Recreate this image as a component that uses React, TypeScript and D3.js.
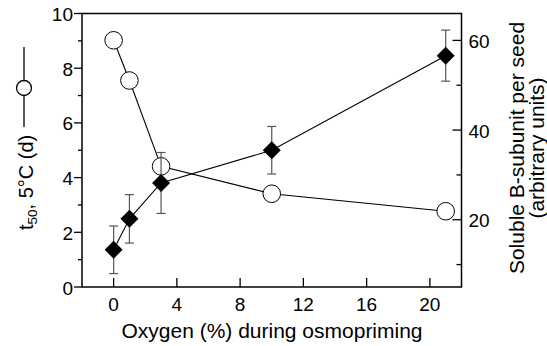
import React from "react";
import * as d3 from "d3";

const oxygen = [0, 1, 3, 10, 21];
const t50 = [9.02, 7.55, 4.41, 3.41, 2.77];
const subunit = [13.3, 20.2, 28.2, 35.5, 56.6];
const subunitErr = [5.3, 5.4, 6.8, 5.3, 5.7];
const xTicks = [0, 4, 8, 12, 16, 20];
const yLeftTicks = [0, 2, 4, 6, 8, 10];
const yLeftMinor = [1, 3, 5, 7, 9];
const yRightTicks = [20, 40, 60];
const yRightMinor = [10, 30, 50];

const W = 547, H = 346;
const L = 82, R = 461.5, T = 13.5, B = 287;
const FONT = "'Liberation Sans', Arial, Helvetica, sans-serif";
const TICK_FS = 19;
const TITLE_FS = 21;

export default function App() {
  const x = d3.scaleLinear().domain([-2, 22]).range([L, R]);
  const yL = d3.scaleLinear().domain([0, 10]).range([B, T]);
  const yR = d3.scaleLinear().domain([5, 66]).range([B, T]);

  const lineL = d3.line<number>().x((_, i) => x(oxygen[i])).y((d) => yL(d));
  const lineR = d3.line<number>().x((_, i) => x(oxygen[i])).y((d) => yR(d));

  const dm = 9;
  const leftCx = 25;
  const leftCy = 138;

  return (
    <svg width={W} height={H} style={{ position: "absolute", left: 0, top: 0, background: "#fff" }} fontFamily={FONT}>
      {/* axes box */}
      <rect x={L} y={T} width={R - L} height={B - T} fill="none" stroke="#000" strokeWidth={1.5} />
      {/* x ticks (inward) */}
      {xTicks.map((t) => (
        <g key={"x" + t}>
          <line x1={x(t)} x2={x(t)} y1={B} y2={B - 9} stroke="#000" strokeWidth={1.3} />
          <text x={x(t)} y={311} fontSize={TICK_FS} textAnchor="middle">{t}</text>
        </g>
      ))}
      {/* left y ticks (outward) */}
      {yLeftTicks.map((t) => (
        <g key={"yl" + t}>
          <line x1={L - 8} x2={L} y1={yL(t)} y2={yL(t)} stroke="#000" strokeWidth={1.3} />
          <text x={L - 9} y={yL(t) + 7.5} fontSize={TICK_FS} textAnchor="end">{t}</text>
        </g>
      ))}
      {yLeftMinor.map((t) => (
        <line key={"ylm" + t} x1={L - 4} x2={L} y1={yL(t)} y2={yL(t)} stroke="#000" strokeWidth={1.3} />
      ))}
      {/* right y ticks (inward) */}
      {yRightTicks.map((t) => (
        <g key={"yr" + t}>
          <line x1={R - 9} x2={R} y1={yR(t)} y2={yR(t)} stroke="#000" strokeWidth={1.3} />
          <text x={R + 7} y={yR(t) + 7.5} fontSize={TICK_FS} textAnchor="start">{t}</text>
        </g>
      ))}
      {yRightMinor.map((t) => (
        <line key={"yrm" + t} x1={R - 5} x2={R} y1={yR(t)} y2={yR(t)} stroke="#000" strokeWidth={1.3} />
      ))}

      {/* circle series */}
      <path d={lineL(t50) || ""} fill="none" stroke="#000" strokeWidth={1.1} />
      {t50.map((v, i) => (
        <circle key={"c" + i} cx={x(oxygen[i])} cy={yL(v)} r={8.8} fill="#fff" stroke="#000" strokeWidth={1} />
      ))}

      {/* diamond series */}
      <path d={lineR(subunit) || ""} fill="none" stroke="#000" strokeWidth={1.1} />
      {subunit.map((v, i) => {
        const cx = x(oxygen[i]);
        const top = yR(v + subunitErr[i]);
        const bot = yR(v - subunitErr[i]);
        return (
          <g key={"e" + i} stroke="#555" strokeWidth={1.2}>
            <line x1={cx} x2={cx} y1={top} y2={bot} />
            <line x1={cx - 4.5} x2={cx + 4.5} y1={top} y2={top} />
            <line x1={cx - 4.5} x2={cx + 4.5} y1={bot} y2={bot} />
          </g>
        );
      })}
      {subunit.map((v, i) => {
        const cx = x(oxygen[i]);
        const cy = yR(v);
        return (
          <path key={"d" + i} d={`M${cx},${cy - dm}L${cx + dm},${cy}L${cx},${cy + dm}L${cx - dm},${cy}Z`} fill="#000" />
        );
      })}

      {/* x axis title */}
      <text x={272} y={338} fontSize={TITLE_FS} textAnchor="middle">Oxygen (%) during osmopriming</text>

      {/* left axis title */}
      <g transform={`translate(${leftCx},${leftCy}) rotate(-90)`}>
        <text x={-92} y={8} fontSize={20} textAnchor="start">
          t<tspan fontSize={13.5} dy={4}>50</tspan><tspan dy={-4}>, 5°C (d)</tspan>
        </text>
        <line x1={11} x2={91} y1={-1} y2={-1} stroke="#000" strokeWidth={1.3} />
        <circle cx={50} cy={-1} r={7.5} fill="#fff" stroke="#000" strokeWidth={1.3} />
      </g>

      {/* right axis title */}
      <g transform={`translate(517,148) rotate(-90)`}>
        <text x={0} y={7} fontSize={TITLE_FS} textAnchor="middle">Soluble B-subunit per seed</text>
        <text x={0} y={27} fontSize={TITLE_FS} textAnchor="middle">(arbitrary units)</text>
      </g>
    </svg>
  );
}
